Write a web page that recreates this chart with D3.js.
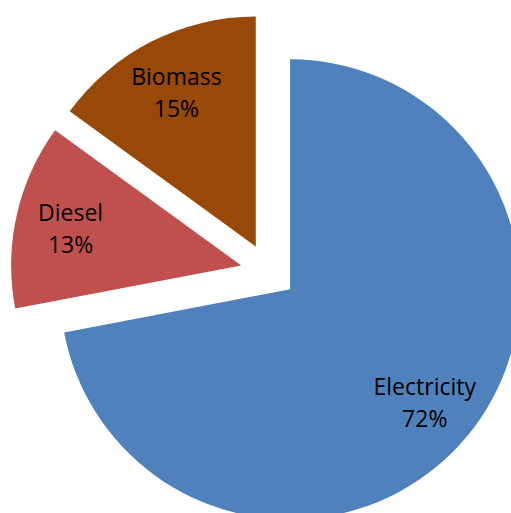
<!DOCTYPE html>
<html lang="en">
<head>
    <meta charset="UTF-8">
    <title>energy share pie</title>
    <script src="https://d3js.org/d3.v7.min.js"></script>
    <style>
        html, body { margin: 0; padding: 0; background: #fff; }
        svg { display: block; }
    </style>
</head>
<body>
    <svg id="chart" width="511" height="513"></svg>
    <script>
        // chart data
        const categories = ["Electricity", "Diesel", "Biomass"];
        const shares = [72, 13, 15];
        const sliceColors = ["#4F81BD", "#C0504D", "#984807"];

        function drawPie() {
            const svg = d3.select("#chart");
            svg.selectAll("*").remove();

            const cx = 268.5, cy = 271.5;
            const radius = 230;
            const explode = 28; // every slice is pulled out a bit

            const data = categories.map((c, i) => ({name: c, value: shares[i], color: sliceColors[i]}));
            const total = d3.sum(shares);

            const pie = d3.pie().value(d => d.value).sort(null);
            const arc = d3.arc().innerRadius(0).outerRadius(radius);
            const labelArc = d3.arc().innerRadius(radius * 0.76).outerRadius(radius * 0.76);

            const g = svg.append("g").attr("transform", `translate(${cx},${cy})`);

            const slices = g.selectAll("g.slice")
                .data(pie(data))
                .enter().append("g")
                .attr("class", "slice")
                .attr("transform", d => {
                    const mid = (d.startAngle + d.endAngle) / 2;
                    return `translate(${Math.sin(mid) * explode},${-Math.cos(mid) * explode})`;
                });

            slices.append("path")
                .attr("d", arc)
                .attr("fill", d => d.data.color);

            const labels = slices.append("text")
                .attr("text-anchor", "middle")
                .attr("font-family", "'Open Sans', 'Noto Sans', sans-serif")
                .attr("font-size", "23px")
                .attr("fill", "#000");

            labels.append("tspan")
                .attr("x", d => labelArc.centroid(d)[0])
                .attr("y", d => labelArc.centroid(d)[1] - 6)
                .text(d => d.data.name);

            labels.append("tspan")
                .attr("x", d => labelArc.centroid(d)[0])
                .attr("dy", 32)
                .text(d => Math.round(d.data.value / total * 100) + "%");
        }

        drawPie();
    </script>
</body>
</html>
